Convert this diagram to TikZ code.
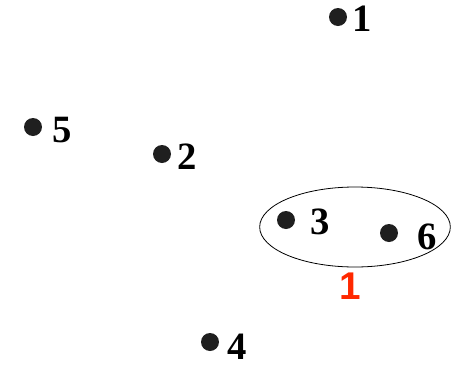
\documentclass[tikz,border=0pt]{standalone}
\usepackage{fontspec}
\setmainfont{Liberation Serif}
\setsansfont{Liberation Sans}
\usepackage{xcolor}
\usepackage{tikz}
\usetikzlibrary{
    positioning,
    shapes.geometric
}
\definecolor{grpred}{RGB}{255,40,0}
\tikzset{
    vertex/.style={
        circle,
        fill=black!88,
        inner sep=0pt,
        minimum size=13.5pt
    }
}
\tikzset{
    vlabel/.style={
        font=\fontsize{29}{32}\selectfont\bfseries,
        inner sep=0pt
    }
}
\tikzset{
    group/.style={
        draw,
        ellipse,
        line width=0.6pt,
        inner sep=0pt,
        minimum width=143pt,
        minimum height=60pt
    }
}
\tikzset{
    grplabel/.style={
        font=\fontsize{29}{32}\selectfont\sffamily\bfseries,
        text=grpred,
        inner sep=0pt
    }
}

\begin{document}
\begin{tikzpicture}[
    x=0.75pt,
    y=-0.75pt
]
\useasboundingbox (0,0) rectangle (451,365);

% vertices
\node[vertex] (d1) at (338,17) {};
\node[vertex] (d5) at (33,127) {};
\node[vertex] (d2) at (162,154) {};
\node[vertex] (d3) at (286,220) {};
\node[vertex] (d6) at (389,233) {};
\node[vertex] (d4) at (210,342) {};

% numbers
\node[vlabel] (l1) at (362,19) {1};
\node[vlabel] (l5) at (62,130) {5};
\node[vlabel] (l2) at (187,157) {2};
\node[vlabel] (l3) at (320,222) {3};
\node[vlabel] (l6) at (427,237) {6};
\node[vlabel] (l4) at (237,347) {4};

% cluster
\node[group] (grp) at (355,227) {};
\node[grplabel] (g1) at (350,286) {1};

\end{tikzpicture}
\end{document}
